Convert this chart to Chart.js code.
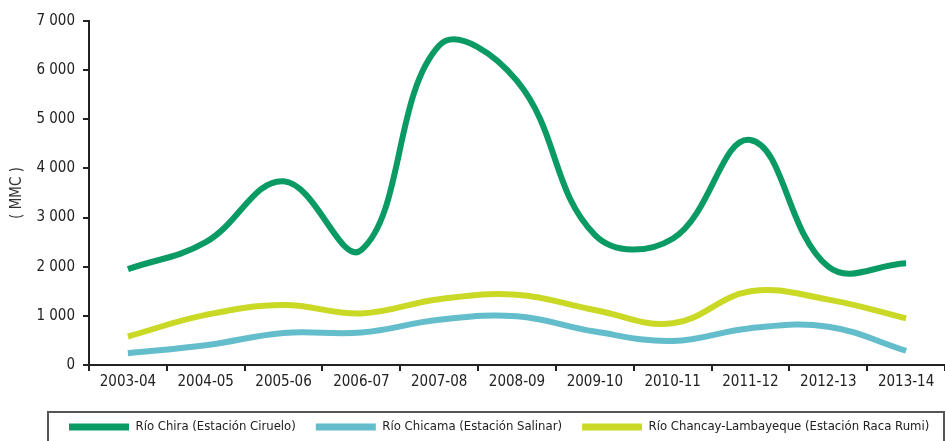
<!DOCTYPE html>
<html>
<head>
<meta charset="utf-8">
<script src="https://cdn.jsdelivr.net/npm/chart.js@4/dist/chart.umd.min.js"></script>
<style>
  body { margin: 0; background: #fff; }
  #chart { display: block; }
</style>
</head>
<body>
<canvas id="chart" width="945" height="441"></canvas>
<script>
// Volumen anual por cuenca (MMC)
const years = ['2003-04', '2004-05', '2005-06', '2006-07', '2007-08', '2008-09',
               '2009-10', '2010-11', '2011-12', '2012-13', '2013-14'];
const chira = [1950, 2500, 3740, 2340, 6500, 5780, 2650, 2570, 4580, 2000, 2070];
const chicama = [240, 400, 650, 660, 920, 990, 680, 490, 750, 780, 290];
const chancay = [580, 1020, 1220, 1050, 1340, 1430, 1120, 850, 1500, 1330, 950];
const seriesNames = ['Río Chira (Estación Ciruelo)', 'Río Chicama (Estación Salinar)',
                     'Río Chancay-Lambayeque (Estación Raca Rumi)'];
const yTicks = [0, 1000, 2000, 3000, 4000, 5000, 6000, 7000];

const colors = ['#0a9a64', '#63bdcb', '#c9d925'];
const narrow = "'Liberation Sans Narrow', 'Arial Narrow', 'DejaVu Sans Condensed', sans-serif";
const ink = '#222';
const legendSize = 13;

// legend box frame + nudge legend to where the original sits
const legendFrame = {
    id: 'legendFrame',
    afterLayout(chart) {
        const lg = chart.legend;
        const pad = lg.options.labels.padding;
        const start = (lg.left + pad + lg.right - lg.lineWidths[0]) / 2;
        const dx = 69 - start;
        const dy = 427 - (lg.top + pad + legendSize / 2);
        lg.left += dx; lg.right += dx;
        lg.top += dy; lg.bottom += dy;
    },
    afterDraw(chart) {
        const ctx = chart.ctx;
        ctx.save();
        ctx.strokeStyle = '#555';
        ctx.lineWidth = 2;
        ctx.strokeRect(48, 412, 896, 60);
        ctx.restore();
    }
};

const data = [chira, chicama, chancay];

new Chart(document.getElementById('chart'), {
    type: 'line',
    data: {
        labels: years,
        datasets: data.map((vals, i) => ({
            label: seriesNames[i],
            data: vals,
            borderColor: colors[i],
            backgroundColor: colors[i],
            borderWidth: 6,
            pointRadius: 0,
            tension: 0.4,
            fill: false
        }))
    },
    options: {
        responsive: false,
        animation: false,
        layout: { padding: { top: 21, right: 0, left: 0, bottom: 0 } },
        plugins: {
            tooltip: { enabled: false },
            legend: {
                position: 'bottom',
                labels: {
                    color: ink,
                    font: { family: narrow, size: legendSize },
                    boxWidth: 60,
                    boxHeight: 7,
                    padding: 20,
                    generateLabels: (chart) => chart.data.datasets.map((ds, i) => ({
                        text: ds.label,
                        fillStyle: ds.borderColor,
                        strokeStyle: ds.borderColor,
                        lineWidth: 0,
                        fontColor: ink,
                        datasetIndex: i
                    }))
                }
            }
        },
        scales: {
            x: {
                offset: true,
                afterFit: (s) => { s.height = 33; },
                grid: {
                    offset: true,
                    drawOnChartArea: false,
                    tickLength: 6,
                    color: ink,
                    lineWidth: 2
                },
                border: { display: true, color: ink, width: 2 },
                ticks: {
                    color: ink,
                    padding: 2,
                    maxRotation: 0,
                    font: { family: narrow, size: 15 }
                }
            },
            y: {
                min: 0,
                max: 7000,
                afterFit: (s) => { s.width = 89; },
                afterBuildTicks: (s) => { s.ticks = yTicks.map(v => ({ value: v })); },
                grid: {
                    drawOnChartArea: false,
                    tickLength: 6,
                    color: ink,
                    lineWidth: 2
                },
                border: { display: true, color: ink, width: 2 },
                ticks: {
                    color: ink,
                    padding: 8,
                    font: { family: narrow, size: 15 },
                    callback: (v) => String(v).replace(/\B(?=(\d{3})+(?!\d))/g, ' ')
                },
                title: {
                    display: true,
                    text: '( MMC )',
                    color: '#333',
                    padding: { top: 8, bottom: 0 },
                    font: { family: narrow, size: 15 }
                }
            }
        }
    },
    plugins: [legendFrame]
});
</script>
</body>
</html>
